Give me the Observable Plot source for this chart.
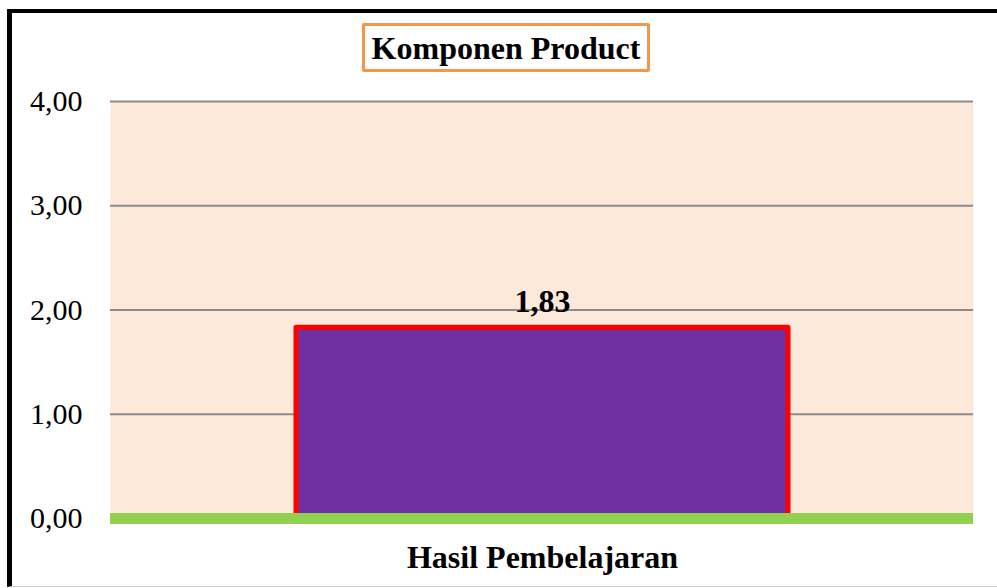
<!DOCTYPE html>
<html>
<head>
<meta charset="utf-8">
<script src="https://cdn.jsdelivr.net/npm/d3@7"></script>
<script src="https://cdn.jsdelivr.net/npm/@observablehq/plot@0.6"></script>
<style>
  html, body { margin: 0; padding: 0; background: #fff; }
  #wrap { position: relative; width: 997px; height: 588px; overflow: hidden; font-family: "Liberation Serif", "Times New Roman", serif; }
  #border { position: absolute; left: 7px; top: 9px; right: -10px; bottom: 1px; border-left: 5px solid #000; border-top: 4px solid #000; border-bottom: 1px solid #d0d0d0; pointer-events: none; }
  #title { position: absolute; left: 362px; top: 23px; width: 282px; height: 43px; border: 3px solid #F79646; border-radius: 2px; background: #fff;
           font-weight: bold; font-size: 32px; line-height: 45px; text-align: center; color: #000; white-space: nowrap; }
  #chart { position: absolute; left: 0; top: 0; }
</style>
</head>
<body>
<div id="wrap">
  <div id="chart"></div>
  <div id="border"></div>
  <div id="title">Komponen Product</div>
</div>
<script>
const categories = ["Hasil Pembelajaran"];
const values = [1.83];
const valueLabels = ["1,83"];
const yTicks = [0, 1, 2, 3, 4];

const data = categories.map((c, i) => ({category: c, value: values[i], label: valueLabels[i]}));
const fmt = d => d.toFixed(2).replace(".", ",");

const chart = Plot.plot({
  width: 997,
  height: 588,
  marginLeft: 110,
  marginRight: 24,
  marginTop: 101,
  marginBottom: 70,
  style: { background: "transparent", fontFamily: "'Liberation Serif', 'Times New Roman', serif", color: "#000" },
  x: { domain: categories, padding: 0.274, label: null },
  y: { domain: [0, 4], ticks: yTicks, label: null },
  marks: [
    Plot.frame({ fill: "#FDE9D9", stroke: null }),
    Plot.gridY(yTicks, { stroke: "#8c8c8c", strokeOpacity: 1, strokeWidth: 2 }),
    Plot.barY(data, { x: "category", y: "value", fill: "#7030A0", stroke: "#FF0000", strokeWidth: 5, strokeLinejoin: "round" }),
    Plot.ruleY([0], { stroke: "#92D050", strokeWidth: 11 }),
    Plot.axisY(yTicks, { tickSize: 0, tickPadding: 28, tickFormat: fmt, fontSize: 30, fill: "#000" }),
    Plot.axisX({ tickSize: 0, tickPadding: 27, fontSize: 32, fontWeight: "bold", fill: "#000", label: null }),
    Plot.text(data, { x: "category", y: "value", text: "label", dy: -26, fontSize: 32, fontWeight: "bold", fill: "#000" })
  ]
});
document.getElementById("chart").appendChild(chart);
</script>
</body>
</html>
